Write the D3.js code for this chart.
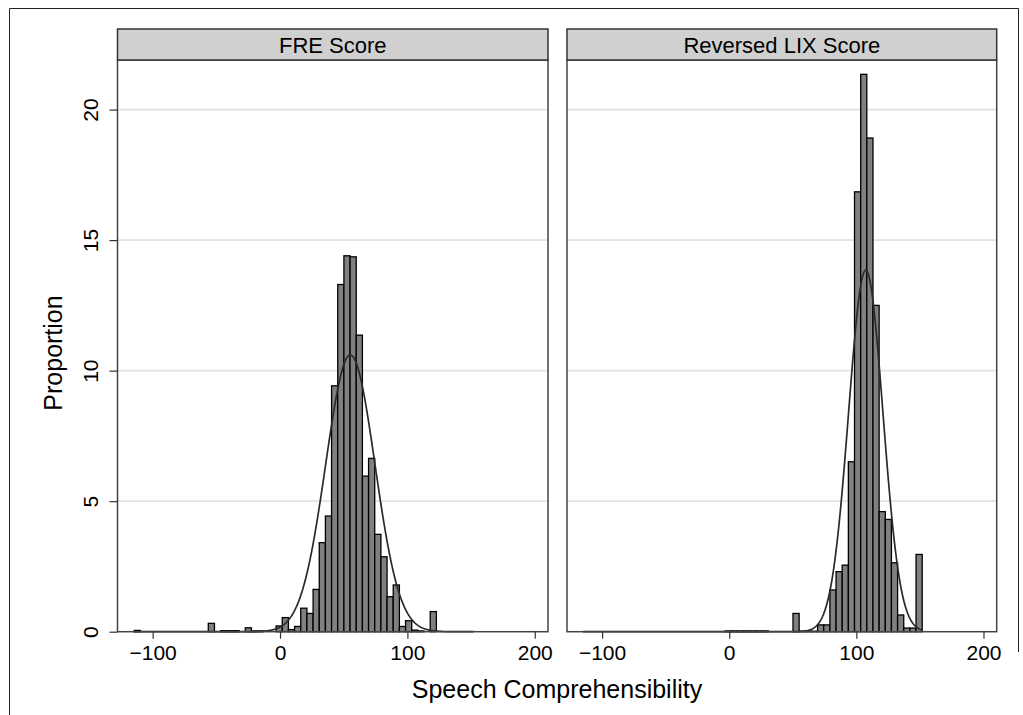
<!DOCTYPE html>
<html lang="en">
<head>
    <meta charset="UTF-8">
    <title>Speech Comprehensibility</title>
    <style>
        body {
            margin: 0;
            padding: 0;
            background: #ffffff;
            font-family: "Liberation Sans", Arial, Helvetica, sans-serif;
        }
        svg text { fill: #000; }
    </style>
    <script src="https://d3js.org/d3.v7.min.js"></script>
</head>
<body>
    <div id="chart"></div>

    <script>
        // Shared histogram bins (same grid for both panels)
        const binStart = -114.4;
        const binWidth = 4.84;

        const panelTitles = ["FRE Score", "Reversed LIX Score"];

        // percent per bin, index 0 starts at binStart
        const freValues = [
            0.05, 0, 0, 0, 0, 0, 0, 0, 0, 0,
            0, 0, 0.32, 0, 0.04, 0.04, 0.04, 0, 0.15, 0.03,
            0.03, 0, 0, 0.22, 0.54, 0.08, 0.2, 0.9, 0.7, 1.62,
            3.41, 4.43, 9.42, 13.3, 14.4, 14.36, 11.36, 5.96, 6.64, 3.73,
            2.87, 1.34, 1.79, 0.2, 0.42, 0.06, 0.03, 0, 0.77
        ];
        const lixValues = [
            0, 0, 0, 0, 0, 0, 0, 0, 0, 0,
            0, 0, 0, 0, 0, 0, 0, 0, 0, 0,
            0, 0, 0, 0.03, 0.03, 0.03, 0.03, 0.03, 0.03, 0.03,
            0, 0, 0, 0, 0.7, 0.02, 0.02, 0.02, 0.26, 0.26,
            1.6, 2.3, 2.55, 6.51, 16.85, 21.35, 18.91, 12.5, 4.6, 4.3,
            2.64, 0.64, 0.14, 0.14, 2.96
        ];

        // fitted normal overlays: mean, sd, peak height, drawn over the pooled range
        const normalMean = [55.2, 107.4];
        const normalSd = [19.3, 13.5];
        const normalPeak = [10.6, 13.85];
        const curveRange = [-115, 152];

        const xTicks = [-100, 0, 100, 200];
        const yTicks = [0, 5, 10, 15, 20];

        const width = 1023, height = 715;
        const svg = d3.select("#chart").append("svg")
            .attr("width", width)
            .attr("height", height);

        // outer frame
        svg.append("path")
            .attr("d", "M9.5,715 V8.5 H1018.5 V652")
            .attr("fill", "none")
            .attr("stroke", "#222")
            .attr("stroke-width", 1);

        const xDomain = [-127.6, 210.4];
        const panels = [[117.5, 548], [567, 996.7]];
        const y = d3.scaleLinear().domain([0, 21.9]).range([631.7, 60]);
        const stripTop = 29, stripBottom = 60;

        const allValues = [freValues, lixValues];
        const font = "'Liberation Sans', Arial, Helvetica, sans-serif";

        panels.forEach((range, i) => {
            const x = d3.scaleLinear().domain(xDomain).range(range);
            const g = svg.append("g");

            // gridlines
            g.selectAll("line.grid")
                .data(yTicks.filter(t => t > 0))
                .join("line")
                .attr("x1", range[0]).attr("x2", range[1])
                .attr("y1", d => y(d)).attr("y2", d => y(d))
                .attr("stroke", "#e2e2e2")
                .attr("stroke-width", 1.6);

            // bars
            const bins = allValues[i].map((v, k) => ({ x0: binStart + k * binWidth, v }))
                .filter(d => d.v > 0);
            g.selectAll("rect.bar")
                .data(bins)
                .join("rect")
                .attr("x", d => x(d.x0))
                .attr("width", d => x(d.x0 + binWidth) - x(d.x0))
                .attr("y", d => y(d.v))
                .attr("height", d => y(0) - y(d.v))
                .attr("fill", "#808080")
                .attr("stroke", "#000")
                .attr("stroke-width", 1.3);

            // normal curve
            const pts = d3.range(curveRange[0], curveRange[1] + 0.01, 0.5).map(t => {
                const z = (t - normalMean[i]) / normalSd[i];
                return [t, normalPeak[i] * Math.exp(-0.5 * z * z)];
            });
            g.append("path")
                .datum(pts)
                .attr("d", d3.line().x(d => x(d[0])).y(d => y(d[1])))
                .attr("fill", "none")
                .attr("stroke", "#2a2a2a")
                .attr("stroke-width", 1.7);

            // panel border
            g.append("rect")
                .attr("x", range[0]).attr("y", stripBottom)
                .attr("width", range[1] - range[0])
                .attr("height", y(0) - stripBottom)
                .attr("fill", "none")
                .attr("stroke", "#444")
                .attr("stroke-width", 1.5);

            // strip
            g.append("rect")
                .attr("x", range[0]).attr("y", stripTop)
                .attr("width", range[1] - range[0])
                .attr("height", stripBottom - stripTop)
                .attr("fill", "#d0d0d0")
                .attr("stroke", "#333")
                .attr("stroke-width", 1.5);
            g.append("text")
                .attr("x", (range[0] + range[1]) / 2)
                .attr("y", 52.5)
                .attr("text-anchor", "middle")
                .style("font-size", "22px")
                .text(panelTitles[i]);

            // x axis
            const xAxis = g.append("g")
                .attr("transform", `translate(0,${y(0)})`)
                .call(d3.axisBottom(x).tickValues(xTicks).tickSize(7).tickPadding(6));
            xAxis.select(".domain").remove();
            xAxis.selectAll(".tick line").attr("stroke", "#333").attr("stroke-width", 1.2);
            xAxis.selectAll(".tick text")
                .style("font-size", "21px")
                .style("font-family", font);

            if (i === 0) {
                const yAxis = g.append("g")
                    .attr("transform", `translate(${range[0]},0)`)
                    .call(d3.axisLeft(y).tickValues(yTicks).tickSize(8).tickPadding(0));
                yAxis.select(".domain").remove();
                yAxis.selectAll(".tick line").attr("stroke", "#333").attr("stroke-width", 1.2);
                yAxis.selectAll(".tick text")
                    .attr("transform", "rotate(-90)")
                    .attr("x", 0)
                    .attr("y", -20)
                    .attr("dy", 0)
                    .attr("text-anchor", "middle")
                    .style("font-size", "21px")
                    .style("font-family", font);
            }
        });

        // axis titles
        svg.append("text")
            .attr("x", 557)
            .attr("y", 698)
            .attr("text-anchor", "middle")
            .style("font-size", "25px")
            .text("Speech Comprehensibility");

        svg.append("text")
            .attr("transform", "translate(62,353) rotate(-90)")
            .attr("text-anchor", "middle")
            .style("font-size", "25px")
            .text("Proportion");
    </script>
</body>
</html>
